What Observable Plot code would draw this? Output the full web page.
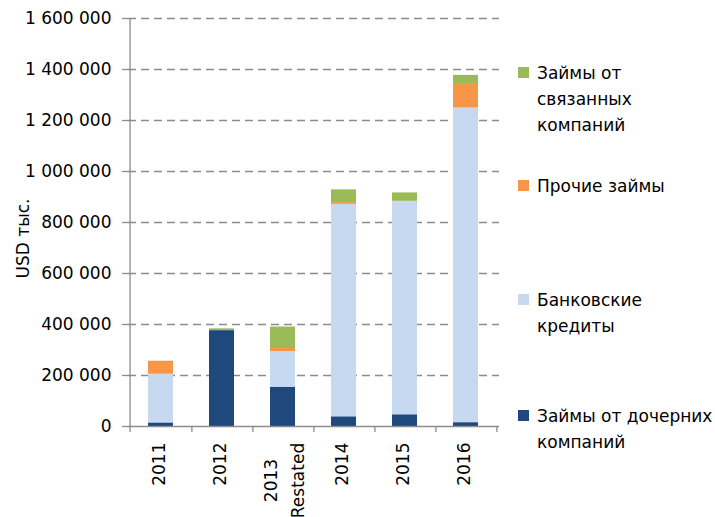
<!DOCTYPE html>
<html>
<head>
<meta charset="utf-8">
<script src="https://cdn.jsdelivr.net/npm/d3@7"></script>
<script src="https://cdn.jsdelivr.net/npm/@observablehq/plot@0.6"></script>
<style>
  html, body { margin: 0; padding: 0; background: #fff; overflow: hidden; }
  #wrap { position: relative; width: 715px; height: 517px; font-family: "DejaVu Sans", sans-serif; }
  #legend { position: absolute; left: 518px; top: 0; font-size: 17px; color: #000; }
  .item { position: absolute; left: 0; display: flex; align-items: flex-start; white-space: nowrap; }
  .sw { width: 11px; height: 11px; margin-top: 7px; margin-right: 8px; flex: none; }
  .lbl { line-height: 26px; }
</style>
</head>
<body>
<div id="wrap"><div id="legend"></div></div>
<script>
// ---- data ----
const categories = ["2011", "2012", "2013 Restated", "2014", "2015", "2016"];
const categoryLabels = ["2011", "2012", "2013\nRestated", "2014", "2015", "2016"];
const series = ["Займы от дочерних компаний", "Банковские кредиты", "Прочие займы", "Займы от связанных компаний"];
const legendLabels = ["Займы от дочерних\nкомпаний", "Банковские\nкредиты", "Прочие займы", "Займы от\nсвязанных\nкомпаний"];
const colors = ["#1F497D", "#C6D9F1", "#F79646", "#9BBB59"];
const subsidiaries = [14000, 376000, 154000, 38000, 46000, 15000];
const bankCredits  = [191000, 0, 140000, 833000, 837000, 1234000];
const otherLoans   = [51000, 0, 12000, 7000, 0, 96000];
const relatedLoans = [0, 7000, 84000, 50000, 33000, 32000];
const yTicks = [0, 200000, 400000, 600000, 800000, 1000000, 1200000, 1400000, 1600000];
const yLabel = "USD тыс.";

const seriesValues = [subsidiaries, bankCredits, otherLoans, relatedLoans];
const table = [];
categories.forEach((c, i) => {
  series.forEach((s, j) => table.push({year: c, series: s, value: seriesValues[j][i]}));
});

const W = 715, H = 517, mL = 128, mR = 216, mT = 18, mB = 91;
const step = (W - mL - mR) / categories.length;
const axisColor = "#8c8c8c";
const fmt = v => d3.format(",")(v).replace(/,/g, "\u00a0");
const labelOf = c => categoryLabels[categories.indexOf(c)];
const single = categories.filter(c => !labelOf(c).includes("\n"));
const multi = categories.filter(c => labelOf(c).includes("\n"));

const chart = Plot.plot({
  width: W, height: H,
  marginLeft: mL, marginRight: mR, marginTop: mT, marginBottom: mB,
  style: {fontFamily: "DejaVu Sans, sans-serif", fontSize: "17px", color: "#000", background: "transparent", overflow: "visible"},
  x: {domain: categories, paddingInner: 0.585, paddingOuter: 0.2925, axis: null},
  y: {domain: [0, 1600000], axis: null},
  color: {domain: series, range: colors},
  marks: [
    Plot.gridY({ticks: yTicks.slice(1), stroke: axisColor, strokeOpacity: 1, strokeWidth: 1.3, strokeDasharray: "8,5"}),
    Plot.barY(table, {x: "year", y: "value", fill: "series", order: series}),
    Plot.ruleY([0], {stroke: axisColor, strokeWidth: 1.3}),
    Plot.ruleX([categories[0]], {x: d => d, dx: -step / 2, stroke: axisColor, strokeWidth: 1.3, insetBottom: -6}),
    Plot.ruleX(categories, {x: d => d, dx: step / 2, y1: 0, y2: 0, stroke: axisColor, strokeWidth: 1.3, insetBottom: -6}),
    Plot.axisY({ticks: yTicks, tickSize: 6, tickPadding: 11, tickFormat: fmt, stroke: axisColor, strokeWidth: 1.3, label: null}),
    Plot.text([yLabel], {text: d => d, frameAnchor: "left", rotate: -90, dx: -112, dy: 16, textAnchor: "middle", lineAnchor: "top", fill: "#000"}),
    Plot.text(single, {x: d => d, text: labelOf, frameAnchor: "bottom", rotate: -90, textAnchor: "end", dy: 16, dx: 4, fill: "#000"}),
    Plot.text(multi, {x: d => d, text: labelOf, frameAnchor: "bottom", rotate: -90, textAnchor: "middle", dy: 54, dx: 20.5, lineHeight: 1.56, fill: "#000"})
  ]
});
document.getElementById("wrap").prepend(chart);

// legend (reverse order: top item = top of stack)
const legend = document.getElementById("legend");
const tops = [403, 287, 173, 60];
series.forEach((s, j) => {
  const item = document.createElement("div");
  item.className = "item";
  item.style.top = tops[j] + "px";
  const sw = document.createElement("div");
  sw.className = "sw";
  sw.style.background = colors[j];
  const lbl = document.createElement("div");
  lbl.className = "lbl";
  lbl.innerHTML = legendLabels[j].split("\n").join("<br>");
  item.append(sw, lbl);
  legend.append(item);
});
</script>
</body>
</html>
